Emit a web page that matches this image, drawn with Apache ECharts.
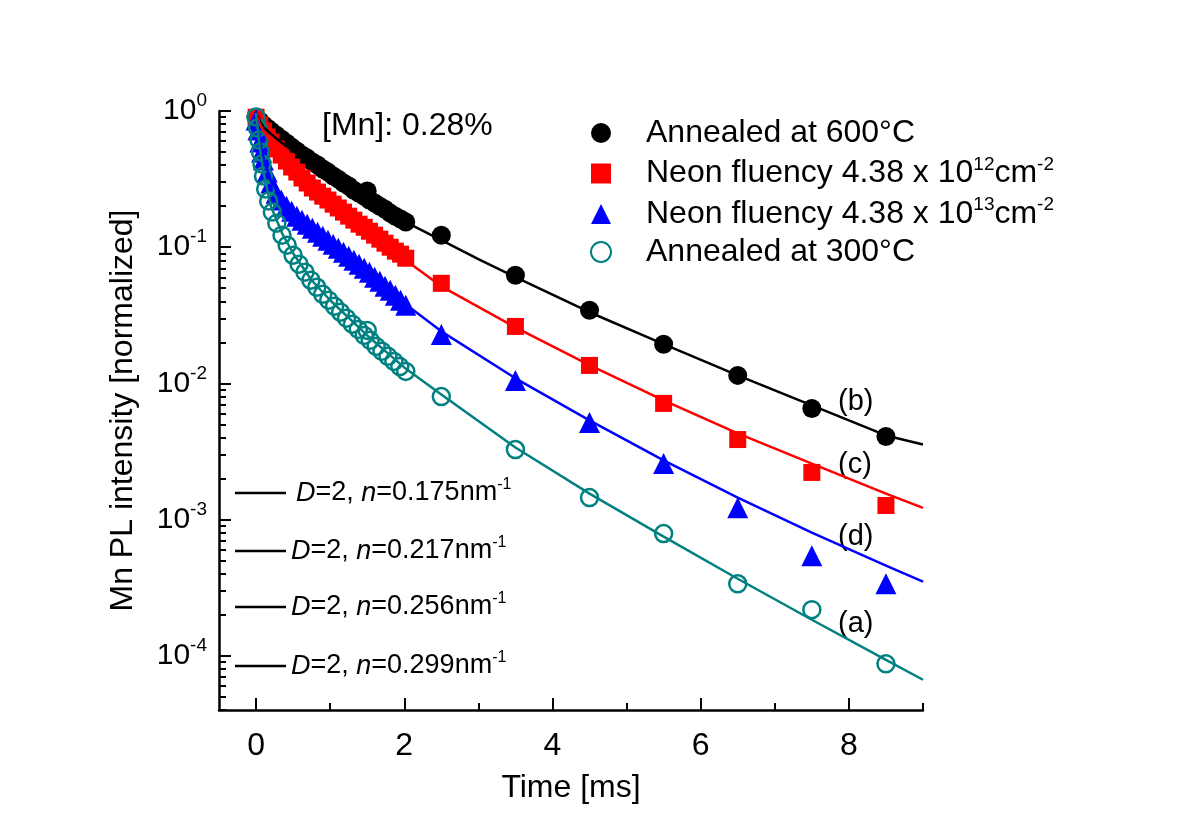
<!DOCTYPE html>
<html><head><meta charset="utf-8">
<script src="https://cdn.jsdelivr.net/npm/echarts@6/dist/echarts.min.js"></script>
<style>html,body{margin:0;padding:0;background:#fff}#c{width:1200px;height:839px}</style>
</head><body><div id="c"></div>
<script>
// ---------- data ----------
const seriesNames = ['Annealed at 600°C', 'Neon fluency 4.38 x 10^12cm^-2', 'Neon fluency 4.38 x 10^13cm^-2', 'Annealed at 300°C'];
const denseT = [0,0.05,0.1,0.15,0.2,0.27,0.34,0.41,0.48,0.55,0.62,0.69,0.76,0.83,0.9,0.97,1.04,1.11,1.18,1.25,1.32,1.39,1.46,1.53,1.6,1.67,1.74,1.81,1.88,1.95,2.02];
const coarseT = [2.5,3.5,4.5,5.5,6.5,7.5,8.5];

// (b) annealed 600 C
const blackDenseV = [0.90,0.844,0.789,0.75,0.713,0.667,0.622,0.582,0.543,0.508,0.475,0.451,0.422,0.401,0.375,0.356,0.333,0.316,0.296,0.281,0.262,0.249,0.237,0.222,0.211,0.2,0.19,0.178,0.169,0.161,0.153];
const blackExtraT = [1.5];
const blackExtraV = [0.259];
const blackCoarseV = [0.1225,0.0622,0.0344,0.0194,0.01145,0.00655,0.00407];
// (c) neon 4.38e12
const redDenseV = [0.90,0.789,0.713,0.644,0.592,0.526,0.475,0.429,0.388,0.356,0.322,0.296,0.272,0.254,0.237,0.222,0.207,0.194,0.181,0.169,0.158,0.1476,0.140,0.131,0.1225,0.1146,0.107,0.100,0.0935,0.0889,0.083];
const redCoarseV = [0.0543,0.0262,0.01355,0.00713,0.00387,0.00222,0.00127];
// (d) neon 4.38e13
const blueDenseT = [0,0.025,0.05,0.075,0.1,0.15,0.2,0.27,0.34,0.41,0.48,0.55,0.62,0.69,0.76,0.83,0.9,0.97,1.04,1.11,1.18,1.25,1.32,1.39,1.46,1.53,1.6,1.67,1.74,1.81,1.88,1.95,2.02];
const blueDenseV = [0.859,0.725,0.592,0.50,0.436,0.356,0.296,0.249,0.222,0.200,0.184,0.169,0.158,0.1476,0.138,0.129,0.1205,0.1125,0.105,0.0984,0.0919,0.0859,0.0802,0.075,0.0701,0.0655,0.0602,0.0562,0.0516,0.0483,0.0444,0.0408,0.0375];
const blueCoarseV = [0.0229,0.0105,0.00516,0.00258,0.00122,0.000543,0.000338];
// (a) annealed 300 C
const tealDenseT = [0,0.02,0.04,0.06,0.08,0.1,0.13,0.17,0.22,0.28,0.35,0.42,0.5,0.58,0.66,0.74,0.82,0.9,0.98,1.06,1.14,1.22,1.3,1.38,1.46,1.54,1.62,1.7,1.78,1.86,1.94,2.02];
const tealDenseV = [0.904,0.75,0.612,0.5,0.408,0.333,0.267,0.218,0.181,0.150,0.1225,0.1035,0.0873,0.075,0.0655,0.0572,0.0508,0.0451,0.0408,0.0368,0.0333,0.0301,0.0272,0.0249,0.0225,0.0207,0.0187,0.0172,0.0158,0.0145,0.0133,0.01225];
const tealExtraT = [1.5];
const tealExtraV = [0.0245];
const tealCoarseV = [0.0080,0.00327,0.00145,0.000789,0.000338,0.000218,0.0000873];

// fit curves (D=2)
const fitBlackT = [0,0.05,0.1,0.2,0.35,0.5,0.75,1,1.5,2,2.5,3,3.5,4.5,5.5,6.5,7.5,8.5,9];
const fitBlackV = [0.967,0.844,0.762,0.678,0.582,0.508,0.408,0.333,0.225,0.155,0.1125,0.0816,0.0602,0.0333,0.0194,0.01145,0.00689,0.00415,0.00356];
const fitRedT = [0,0.05,0.1,0.2,0.35,0.5,0.75,1,1.5,2,2.5,3.5,4.5,5.5,6.5,7.5,8.5,9];
const fitRedV = [0.967,0.802,0.713,0.601,0.475,0.388,0.281,0.214,0.131,0.0816,0.0516,0.0258,0.0136,0.0075,0.00429,0.00258,0.00155,0.00122];
const fitBlueT = [0,0.03,0.06,0.1,0.2,0.35,0.5,0.75,1,1.5,2,2.5,3.5,4.5,5.5,6.5,7.5,8.5,9];
const fitBlueV = [0.967,0.725,0.562,0.451,0.306,0.225,0.187,0.140,0.107,0.0644,0.0387,0.0241,0.0109,0.00535,0.00272,0.00145,0.000802,0.000459,0.00035];
const fitTealT = [0,0.02,0.05,0.1,0.2,0.35,0.5,0.75,1,1.5,2,2.5,3.5,4.5,5.5,6.5,7.5,8.5,9];
const fitTealV = [0.967,0.762,0.543,0.356,0.2,0.127,0.0903,0.0572,0.0408,0.0225,0.0131,0.0083,0.00338,0.00155,0.00075,0.000368,0.000184,0.0000935,0.0000667];

const xMajorTicks = [0,2,4,6,8];
const xMinorTicks = [1,3,5,7,9];
const yMajorTicks = [1e-4,1e-3,1e-2,1e-1,1];
const fitLabels = ['0.175','0.217','0.256','0.299'];
const curveLabels = ['(b)','(c)','(d)','(a)'];

// ---------- build ----------
const FONT = '"Liberation Sans", Arial, Helvetica, sans-serif';
function zip(t, v) { return t.map((x, i) => [x, v[i]]); }
const yMinorTicks = [];
for (let d = -5; d <= -1; d++) for (let k = 2; k <= 9; k++) { const v = k * Math.pow(10, d); if (v >= 4e-5 - 1e-12) yMinorTicks.push(+v.toPrecision(3)); }

const colors = ['#000000', '#ff0000', '#0000ff', '#008080'];

const scatterData = [
  zip(denseT, blackDenseV).concat(zip(blackExtraT, blackExtraV), zip(coarseT, blackCoarseV)),
  zip(denseT, redDenseV).concat(zip(coarseT, redCoarseV)),
  zip(blueDenseT, blueDenseV).concat(zip(coarseT, blueCoarseV)),
  zip(tealDenseT, tealDenseV).concat(zip(tealExtraT, tealExtraV), zip(coarseT, tealCoarseV))
];
const fitData = [zip(fitBlackT, fitBlackV), zip(fitRedT, fitRedV), zip(fitBlueT, fitBlueV), zip(fitTealT, fitTealV)];

const symbols = ['circle', 'rect', 'triangle', 'circle'];
const sizes = [19, 17, 21, 17];

const series = [];
for (let i = 0; i < 4; i++) {
  series.push({
    name: seriesNames[i], type: 'scatter', xAxisIndex: 0, yAxisIndex: 0,
    symbol: symbols[i], symbolSize: sizes[i], data: scatterData[i], silent: true,
    itemStyle: i === 3 ? { color: 'rgba(255,255,255,0)', borderColor: colors[3], borderWidth: 2.5, opacity: 1 }
                       : { color: colors[i], opacity: 1 },
    z: 2
  });
}
for (let i = 0; i < 4; i++) {
  series.push({
    name: 'fit' + i, type: 'line', xAxisIndex: 0, yAxisIndex: 0, data: fitData[i],
    symbol: 'none', showSymbol: false, smooth: false, silent: true,
    lineStyle: { color: colors[i], width: 2.5, join: 'round' }, z: 3
  });
}

function legendFmt(name) {
  if (name.indexOf('10^') >= 0) {
    const m = name.match(/^(.*10)\^(\d+)cm\^-2$/);
    return '{t|' + m[1] + '}{s|' + m[2] + '}{t|cm}{s|-2}';
  }
  return '{t|' + name + '}';
}

const graphics = [];
graphics.push({ type: 'text', left: 322, top: 110, style: { text: '[Mn]: 0.28%', font: '32px ' + FONT, fill: '#000' } });
const curveLabelPos = [[838, 402], [838, 465], [838, 537], [838, 624]];
curveLabels.forEach((s, i) => graphics.push({ type: 'text', x: curveLabelPos[i][0], y: curveLabelPos[i][1],
  style: { text: s, font: '29px ' + FONT, fill: '#000', verticalAlign: 'middle' } }));
const fitRowY = [493, 551, 607, 666];
fitLabels.forEach((n, i) => {
  graphics.push({ type: 'line', shape: { x1: 235, y1: fitRowY[i], x2: 286, y2: fitRowY[i] }, style: { stroke: '#000', lineWidth: 2.5 } });
  graphics.push({ type: 'text', x: i === 0 ? 296 : 291, y: fitRowY[i], style: {
    text: '{i|D}{t|=2, }{i|n}{t|=' + n + 'nm}{s|-1}', verticalAlign: 'middle', fill: '#000',
    rich: {
      t: { fontFamily: FONT, fontSize: 27, fill: '#000' },
      i: { fontFamily: FONT, fontSize: 27, fontStyle: 'italic', fill: '#000' },
      s: { fontFamily: FONT, fontSize: 16, fill: '#000', padding: [0, 0, 16, 0] }
    } } });
});

const axisLineStyle = { color: '#000', width: 2.5 };

const option = {
  animation: false,
  backgroundColor: '#fff',
  grid: { left: 219, right: 277, top: 111, bottom: 129, containLabel: false },
  legend: {
    data: seriesNames, orient: 'vertical', left: 585, top: 112, itemWidth: 20, itemHeight: 20, itemGap: 6,
    selectedMode: false, formatter: legendFmt,
    textStyle: {
      rich: {
        t: { fontFamily: FONT, fontSize: 32, color: '#000', lineHeight: 36 },
        s: { fontFamily: FONT, fontSize: 19, color: '#000', padding: [0, 0, 18, 0] }
      },
      padding: [0, 0, 0, 30]
    }
  },
  xAxis: [
    {
      type: 'value', min: -0.5, max: 9, position: 'bottom',
      name: 'Time [ms]', nameLocation: 'middle', nameGap: 62,
      nameTextStyle: { fontFamily: FONT, fontSize: 32, color: '#000' },
      axisLine: { show: true, onZero: false, lineStyle: axisLineStyle },
      axisTick: { show: true, inside: true, length: 12, customValues: xMajorTicks, lineStyle: { color: '#000', width: 2 } },
      axisLabel: { show: true, customValues: xMajorTicks, margin: 20, fontFamily: FONT, fontSize: 32, color: '#000' },
      splitLine: { show: false }
    },
    {
      type: 'value', min: -0.5, max: 9, position: 'bottom',
      axisLine: { show: false, onZero: false },
      axisTick: { show: true, inside: true, length: 7, customValues: xMinorTicks, lineStyle: { color: '#000', width: 2 } },
      axisLabel: { show: false }, splitLine: { show: false }
    }
  ],
  yAxis: [
    {
      type: 'log', logBase: 10, min: 4e-5, max: 1, position: 'left',
      name: 'Mn PL intensity [normalized]', nameLocation: 'middle', nameGap: 80,
      nameTextStyle: { fontFamily: FONT, fontSize: 32, color: '#000' },
      axisLine: { show: true, onZero: false, lineStyle: axisLineStyle },
      axisTick: { show: true, inside: true, length: 12, customValues: yMajorTicks, lineStyle: { color: '#000', width: 2 } },
      axisLabel: {
        show: true, customValues: yMajorTicks, margin: 12,
        formatter: v => '{b|10}{s|' + Math.round(Math.log10(v)) + '}',
        rich: {
          b: { fontFamily: FONT, fontSize: 30, color: '#000' },
          s: { fontFamily: FONT, fontSize: 19, color: '#000', padding: [0, 0, 20, 0] }
        }
      },
      splitLine: { show: false }
    },
    {
      type: 'log', logBase: 10, min: 4e-5, max: 1, position: 'left',
      axisLine: { show: false, onZero: false },
      axisTick: { show: true, inside: true, length: 7, customValues: yMinorTicks, lineStyle: { color: '#000', width: 2 } },
      axisLabel: { show: false }, splitLine: { show: false }
    }
  ],
  graphic: graphics,
  series: series
};
const chart = echarts.init(document.getElementById('c'));
chart.setOption(option);
</script>
</body></html>
